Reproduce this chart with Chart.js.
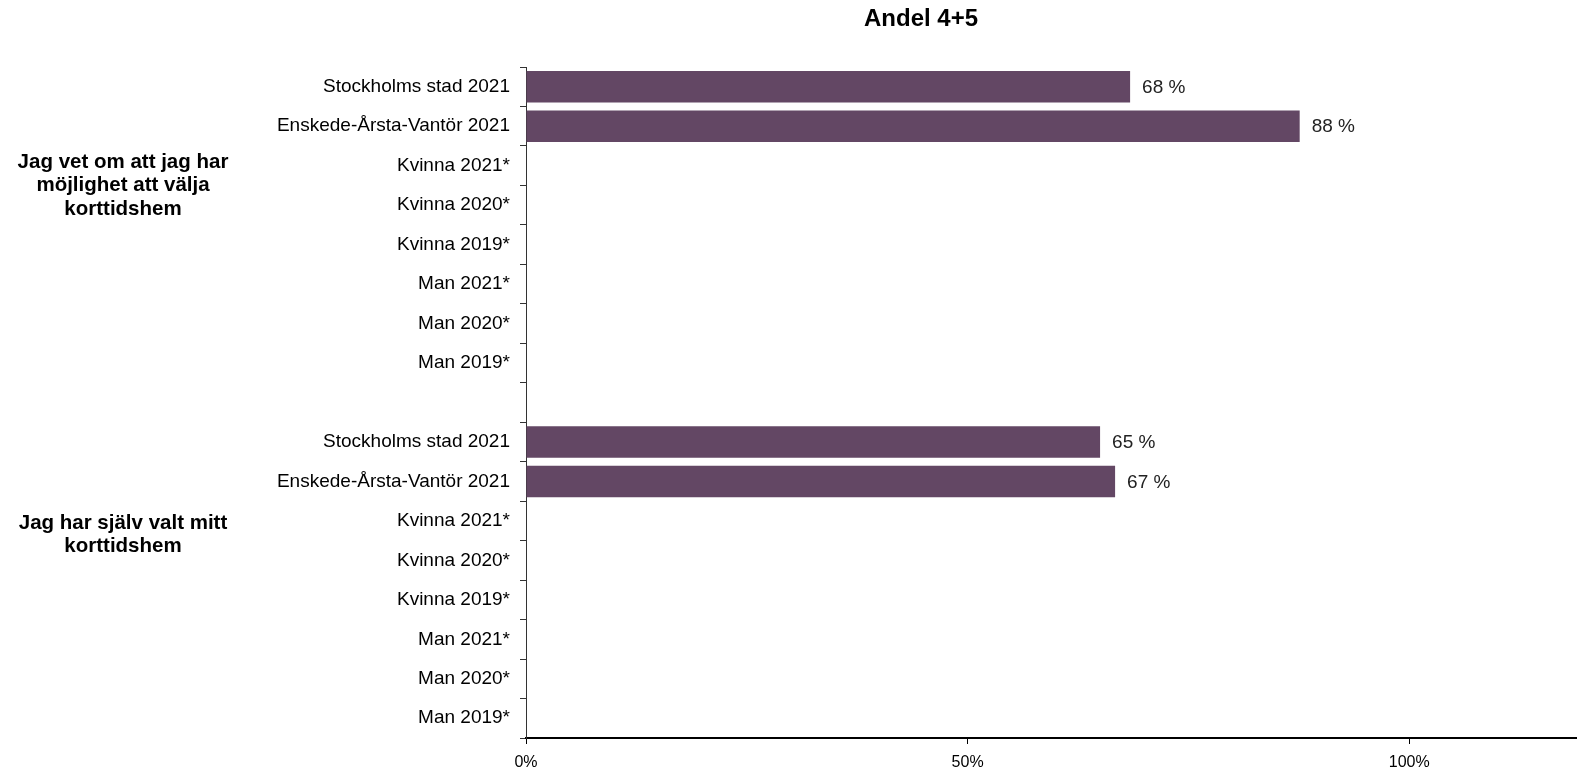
<!DOCTYPE html>
<html>
<head>
<meta charset="utf-8">
<script src="https://cdn.jsdelivr.net/npm/chart.js@4"></script>
<style>
  body { margin: 0; background: #fff; }
</style>
</head>
<body>
<canvas id="myChart" width="1577" height="772"></canvas>
<script>
const categories = [
    'Stockholms stad 2021', 'Enskede-Årsta-Vantör 2021',
    'Kvinna 2021*', 'Kvinna 2020*', 'Kvinna 2019*',
    'Man 2021*', 'Man 2020*', 'Man 2019*',
    '',
    'Stockholms stad 2021', 'Enskede-Årsta-Vantör 2021',
    'Kvinna 2021*', 'Kvinna 2020*', 'Kvinna 2019*',
    'Man 2021*', 'Man 2020*', 'Man 2019*'
];
const andel45 = [68.4, 87.6, null, null, null, null, null, null, null,
                 65.0, 66.7, null, null, null, null, null, null];
const xTicks = [0, 50, 100];
const groupLabels = [
    ['Jag vet om att jag har', 'möjlighet att välja', 'korttidshem'],
    ['Jag har själv valt mitt', 'korttidshem']
];
const groupAt = [2.5, 11.35];
const title = 'Andel 4+5';

Chart.defaults.font.family = '"Liberation Sans", Arial, sans-serif';
Chart.defaults.color = '#000';

const extras = {
    id: 'extras',
    afterDatasetsDraw(chart) {
        const ctx = chart.ctx;
        const yScale = chart.scales.y;
        ctx.save();
        // value labels
        ctx.font = '19px "Liberation Sans", Arial, sans-serif';
        ctx.fillStyle = '#222';
        ctx.textAlign = 'left';
        ctx.textBaseline = 'middle';
        chart.getDatasetMeta(0).data.forEach((bar, i) => {
            const v = andel45[i];
            if (v === null) return;
            ctx.fillText(Math.round(v) + ' %', bar.x + 12, bar.y + 1);
        });
        // group labels
        ctx.font = 'bold 20.5px "Liberation Sans", Arial, sans-serif';
        ctx.fillStyle = '#000';
        ctx.textAlign = 'center';
        groupLabels.forEach((lines, g) => {
            const yc = yScale.getPixelForValue(groupAt[g]);
            const lh = 23.5;
            const y0 = yc - (lines.length - 1) * lh / 2;
            lines.forEach((t, k) => ctx.fillText(t, 123, y0 + k * lh));
        });
        // title
        ctx.font = 'bold 24px "Liberation Sans", Arial, sans-serif';
        ctx.fillText(title, 921, 19);
        ctx.restore();
    }
};

const ctx = document.getElementById('myChart').getContext('2d');
const myChart = new Chart(ctx, {
    type: 'bar',
    data: {
        labels: categories,
        datasets: [{
            label: title,
            data: andel45,
            backgroundColor: '#634764',
            barPercentage: 0.8,
            categoryPercentage: 1
        }]
    },
    options: {
        indexAxis: 'y',
        responsive: false,
        animation: false,
        layout: { padding: { top: 67, left: 0, right: 0, bottom: 0 } },
        plugins: {
            legend: { display: false },
            title: { display: false },
            tooltip: { enabled: false }
        },
        scales: {
            x: {
                min: 0,
                max: 119,
                afterBuildTicks: (scale) => {
                    scale.ticks = xTicks.map(v => ({ value: v }));
                },
                afterFit: (scale) => { scale.height = 34; },
                ticks: {
                    callback: (v) => v + '%',
                    font: { size: 16 },
                    color: '#000',
                    padding: 9,
                    maxRotation: 0
                },
                grid: { drawOnChartArea: false, tickLength: 6, color: '#000' },
                border: { color: '#000', width: 2 }
            },
            y: {
                afterFit: (scale) => { scale.width = 526; },
                ticks: {
                    font: { size: 19 },
                    color: '#000',
                    padding: 10,
                    autoSkip: false
                },
                grid: { drawOnChartArea: false, tickLength: 6, color: '#333', offset: true },
                border: { color: '#333', width: 1 }
            }
        }
    },
    plugins: [extras]
});
</script>
</body>
</html>
